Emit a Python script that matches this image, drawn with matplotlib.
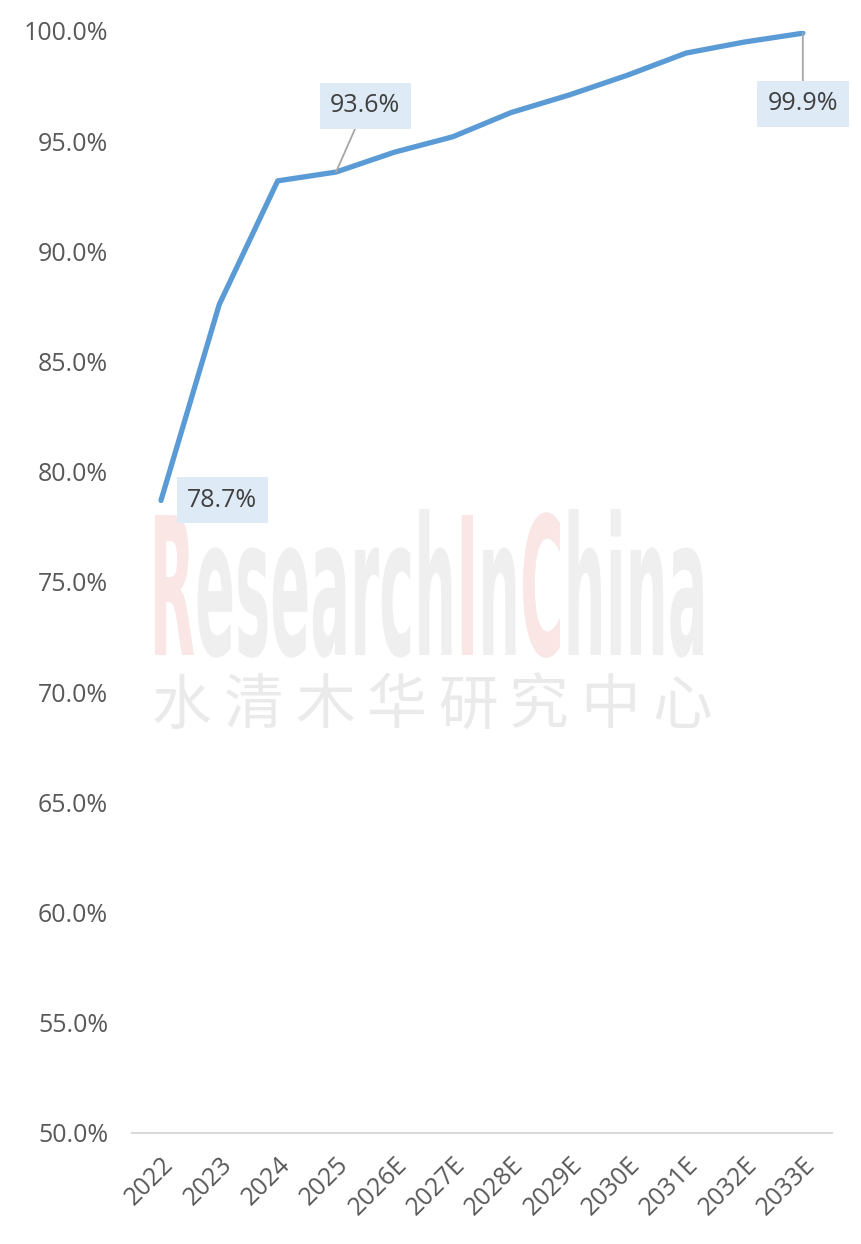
import matplotlib
matplotlib.use("Agg")
import matplotlib.pyplot as plt
from matplotlib.font_manager import FontProperties
from matplotlib.textpath import TextPath, TextToPath
from matplotlib.path import Path
from matplotlib.patches import PathPatch

# ----------------------------
# Data
# ----------------------------
years = ["2022", "2023", "2024", "2025", "2026E", "2027E", "2028E",
         "2029E", "2030E", "2031E", "2032E", "2033E"]
share = [78.7, 87.6, 93.2, 93.6, 94.5, 95.2, 96.3, 97.1, 98.0, 99.0, 99.5, 99.9]
labelled = {0: (1.05, 0.0), 3: (0.5, 3.0), 11: (0.0, -3.2)}  # index -> offset (cats, %)

plt.rcParams["font.family"] = ["Open Sans", "DejaVu Sans"]

W, H = 862, 1244
fig = plt.figure(figsize=(W / 100, H / 100), dpi=100)

# ----------------------------
# Watermark (drawn behind the chart, in pixel coords)
# ----------------------------
wm = fig.add_axes([0, 0, 1, 1], zorder=0)
wm.set_xlim(0, W)
wm.set_ylim(H, 0)
wm.axis("off")

fp = FontProperties(family=["Liberation Sans Narrow", "DejaVu Sans"], weight="bold", size=100)
word = "ResearchInChina"
full = TextPath((0, 0), word, prop=fp)
cap = TextPath((0, 0), "R", prop=fp).get_extents()
ext = full.get_extents()
x0, x1, base = 155, 703, 655
sx = (x1 - x0) / ext.width
sy = 140 / cap.height
t2p = TextToPath()


def put_path(p, dx, color):
    v = p.vertices.copy()
    v[:, 0] = x0 + (v[:, 0] + dx - ext.x0) * sx
    v[:, 1] = base - v[:, 1] * sy
    wm.add_patch(PathPatch(Path(v, p.codes), facecolor=color, edgecolor="none"))


put_path(full, 0, "#EFEFEF")
for i, ch in enumerate(word):
    if i in (0, 8, 10):
        dx = t2p.get_text_width_height_descent(word[:i], fp, ismath=False)[0] if i else 0
        put_path(TextPath((0, 0), ch, prop=fp), dx, "#FBE6E6")

cn = "水清木华研究中心"
for i, ch in enumerate(cn):
    wm.text(182 + i * 71.4, 707, ch, fontsize=43, color="#EAEAEA",
            family=["Noto Sans CJK SC"], ha="center", va="center")

# ----------------------------
# Chart
# ----------------------------
ax = fig.add_axes([131.8 / W, 1 - 1133 / H, (832 - 131.8) / W, (1133 - 31) / H], zorder=1)
ax.patch.set_alpha(0)
x = list(range(len(years)))
ax.plot(x, share, color="#5B9BD5", lw=3.8, solid_capstyle="round", zorder=3)

ax.set_xlim(-0.5, len(years) - 0.5)
ax.set_ylim(50, 100)
ax.set_yticks(range(50, 101, 5))
ax.set_yticklabels([f"{v:.1f}%" for v in range(50, 101, 5)])
ax.set_xticks(x)
ax.set_xticklabels(years, rotation=45, ha="right", rotation_mode="anchor")
ax.tick_params(axis="y", length=0, pad=17, labelsize=18, labelcolor="#595959")
ax.tick_params(axis="x", length=0, pad=14, labelsize=18, labelcolor="#595959")
for s in ["top", "right", "left"]:
    ax.spines[s].set_visible(False)
ax.spines["bottom"].set_color("#D9D9D9")
ax.spines["bottom"].set_linewidth(1.5)

for i, (ox, oy) in labelled.items():
    ax.annotate(f"{share[i]:.1f}%", xy=(x[i], share[i]), xytext=(x[i] + ox, share[i] + oy),
                fontsize=18, color="#404040", ha="center", va="center", zorder=4,
                bbox=dict(boxstyle="square,pad=0.42", fc="#DEEBF7", ec="none"),
                arrowprops=dict(arrowstyle="-", color="#A6A6A6", lw=1.3,
                                shrinkA=0, shrinkB=0) if oy else None)

fig.savefig("out.png", dpi=100)
